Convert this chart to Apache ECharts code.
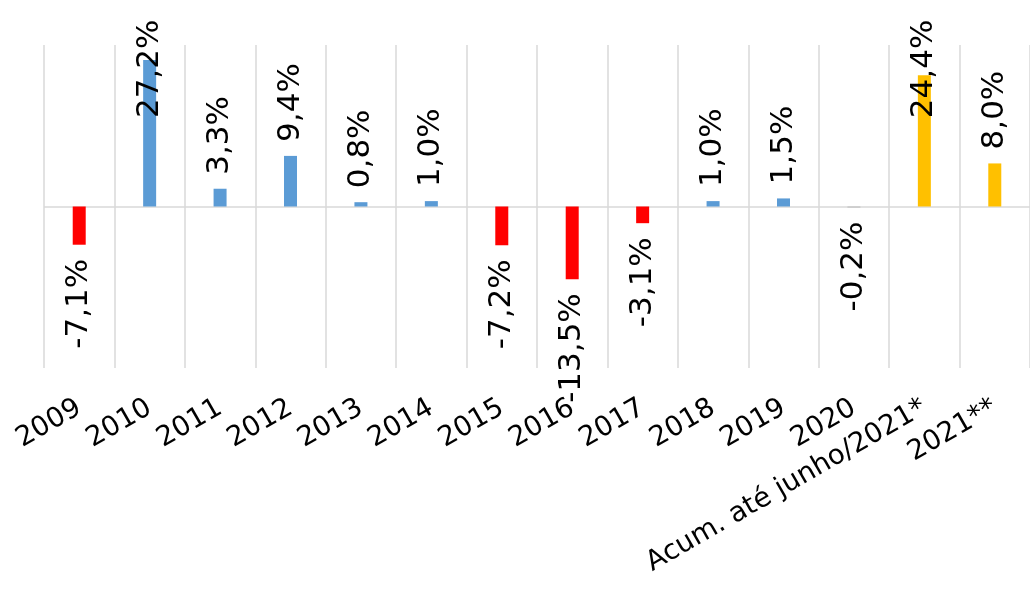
<!DOCTYPE html>
<html>
<head>
<meta charset="utf-8">
<script src="https://cdn.jsdelivr.net/npm/echarts@6/dist/echarts.min.js"></script>
<style>
html,body{margin:0;padding:0;background:#fff;}
#chart{width:1030px;height:604px;}
</style>
</head>
<body>
<div id="chart"></div>
<script>
const categories = ['2009','2010','2011','2012','2013','2014','2015','2016','2017','2018','2019','2020','Acum. até junho/2021*','2021**'];
const values = [-7.1, 27.2, 3.3, 9.4, 0.8, 1.0, -7.2, -13.5, -3.1, 1.0, 1.5, -0.2, 24.4, 8.0];
const axisMin = -30;
const axisMax = 30;

// styles (kept apart from data)
const RED = '#FF0000', BLUE = '#5B9BD5', GOLD = '#FFC000', GRAY = '#BFBFBF';
const barColors = [RED, BLUE, BLUE, BLUE, BLUE, BLUE, RED, RED, RED, BLUE, BLUE, GRAY, GOLD, GOLD];
const labelShift = {1: -72, 12: -57}; // labels pushed back inside the chart area

const fmt = v => v.toFixed(1).replace('.', ',') + '%';

const seriesData = values.map((v, i) => {
  const neg = v < 0;
  const label = {
    position: neg ? 'bottom' : 'top',
    align: neg ? 'right' : 'left'
  };
  if (labelShift[i] !== undefined) label.offset = [labelShift[i], 0];
  return { value: v, itemStyle: { color: barColors[i] }, label };
});

const chart = echarts.init(document.getElementById('chart'), null, { renderer: 'canvas' });
chart.setOption({
  animation: false,
  backgroundColor: '#ffffff',
  grid: { left: 44, top: 45, width: 991, height: 323, containLabel: false },
  xAxis: {
    type: 'category',
    data: categories,
    axisLine: { show: false, onZero: false },
    axisTick: { show: false },
    splitLine: { show: true, interval: 0, lineStyle: { color: '#D9D9D9', width: 1.5 } },
    axisLabel: {
      interval: 0,
      rotate: 30,
      margin: 38,
      color: '#000',
      fontFamily: 'DejaVu Sans',
      fontSize: 27.5
    }
  },
  yAxis: {
    type: 'value',
    min: axisMin,
    max: axisMax,
    interval: 30,
    axisLine: { show: false },
    axisTick: { show: false },
    axisLabel: { show: false },
    splitLine: { show: true, showMinLine: false, showMaxLine: false, lineStyle: { color: '#D9D9D9', width: 1.5 } }
  },
  series: [{
    type: 'bar',
    data: seriesData,
    barWidth: 13,
    label: {
      show: true,
      rotate: 90,
      distance: 14,
      verticalAlign: 'middle',
      color: '#000',
      fontFamily: 'DejaVu Sans',
      fontSize: 31,
      formatter: p => fmt(p.value)
    }
  }]
});
</script>
</body>
</html>
